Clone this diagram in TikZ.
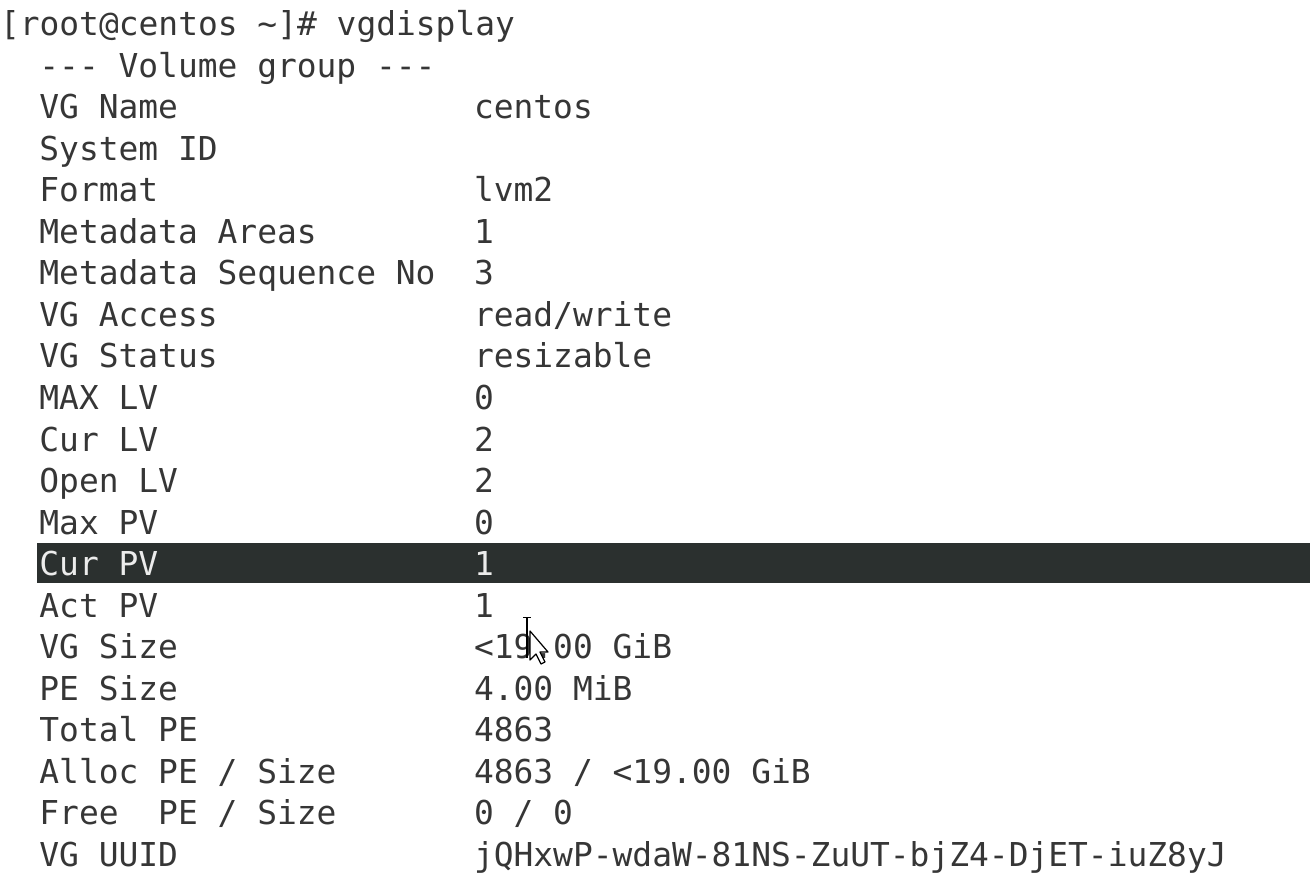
\documentclass[tikz,border=0pt]{standalone}
\usepackage{fontspec}
\setmonofont{DejaVu Sans Mono}
\usetikzlibrary{positioning, calc}

\definecolor{termfg}{HTML}{363636}
\definecolor{termbg}{HTML}{FFFFFF}
\definecolor{selbg}{HTML}{2B302F}
\definecolor{selfg}{HTML}{ECECEC}

\begin{document}
\begin{tikzpicture}[x=1pt, y=-1pt]
    % --- Style Definitions ---
    \tikzset{
        % terminal text, one line each
        term text/.style={
            font=\ttfamily\fontsize{32.9}{40}\selectfont,
            text=termfg,
            anchor=base west,
            inner sep=0pt,
            outer sep=0pt
        },
        % selected line
        sel text/.style={term text, text=selfg},
        sel bar/.style={fill=selbg, draw=none},
        % mouse pointer
        pointer style/.style={fill=white, draw=black, line width=1.2pt, line join=round}
    }

    % background
    \fill[termbg] (0,0) rectangle (1310,893);
    \useasboundingbox (0,0) rectangle (1310,893);

    % ==========================================
    % PROMPT AND HEADER
    % ==========================================
    \node[term text] (prompt) at (0,36) {[root@centos \textasciitilde]\# vgdisplay};
    \node[term text] (header) at (39.4,77.5) {-{}-{}- Volume group -{}-{}-};

    % ==========================================
    % SELECTION BAR (Cur PV)
    % ==========================================
    \fill[sel bar] (37,543) rectangle (1310,583);

    % ==========================================
    % LABELS (column 2)
    % ==========================================
    \node[term text] (lbl_name)   at (39.4,119)   {VG Name};
    \node[term text] (lbl_sysid)  at (39.4,160.5) {System ID};
    \node[term text] (lbl_format) at (39.4,202)   {Format};
    \node[term text] (lbl_areas)  at (39.4,243.5) {Metadata Areas};
    \node[term text] (lbl_seq)    at (39.4,285)   {Metadata Sequence No};
    \node[term text] (lbl_access) at (39.4,326.5) {VG Access};
    \node[term text] (lbl_status) at (39.4,368)   {VG Status};
    \node[term text] (lbl_maxlv)  at (39.4,409.5) {MAX LV};
    \node[term text] (lbl_curlv)  at (39.4,451)   {Cur LV};
    \node[term text] (lbl_openlv) at (39.4,492.5) {Open LV};
    \node[term text] (lbl_maxpv)  at (39.4,534)   {Max PV};
    \node[sel text]  (lbl_curpv)  at (39.4,575.5) {Cur PV};
    \node[term text] (lbl_actpv)  at (39.4,617)   {Act PV};
    \node[term text] (lbl_vgsize) at (39.4,658.5) {VG Size};
    \node[term text] (lbl_pesize) at (39.4,700)   {PE Size};
    \node[term text] (lbl_total)  at (39.4,741.5) {Total PE};
    \node[term text] (lbl_alloc)  at (39.4,783)   {Alloc PE / Size};
    \node[term text] (lbl_free)   at (39.4,824.5) {Free\ \ PE / Size};
    \node[term text] (lbl_uuid)   at (39.4,866)   {VG UUID};

    % ==========================================
    % VALUES (column 24)
    % ==========================================
    \node[term text] (val_name)   at (474,119)   {centos};
    \node[term text] (val_format) at (474,202)   {lvm2};
    \node[term text] (val_areas)  at (474,243.5) {1};
    \node[term text] (val_seq)    at (474,285)   {3};
    \node[term text] (val_access) at (474,326.5) {read/write};
    \node[term text] (val_status) at (474,368)   {resizable};
    \node[term text] (val_maxlv)  at (474,409.5) {0};
    \node[term text] (val_curlv)  at (474,451)   {2};
    \node[term text] (val_openlv) at (474,492.5) {2};
    \node[term text] (val_maxpv)  at (474,534)   {0};
    \node[sel text]  (val_curpv)  at (474,575.5) {1};
    \node[term text] (val_actpv)  at (474,617)   {1};
    \node[term text] (val_vgsize) at (474,658.5) {<19.00 GiB};
    \node[term text] (val_pesize) at (474,700)   {4.00 MiB};
    \node[term text] (val_total)  at (474,741.5) {4863};
    \node[term text] (val_alloc)  at (474,783)   {4863 / <19.00 GiB};
    \node[term text] (val_free)   at (474,824.5) {0 / 0};
    \node[term text] (val_uuid)   at (474,866)   {jQHxwP-wdaW-81NS-ZuUT-bjZ4-DjET-iuZ8yJ};

    % ==========================================
    % MOUSE POINTER
    % ==========================================
    % I-beam
    \draw[black, line width=1.8pt] (527,617) -- (527,658);
    \draw[black, line width=1.2pt] (523,617.5) -- (531,617.5);
    % arrow
    \draw[pointer style] (530,631) -- (530,660) -- (536,654) -- (541,664)
        -- (545,662) -- (540,652) -- (548,652) -- cycle;

\end{tikzpicture}
\end{document}
